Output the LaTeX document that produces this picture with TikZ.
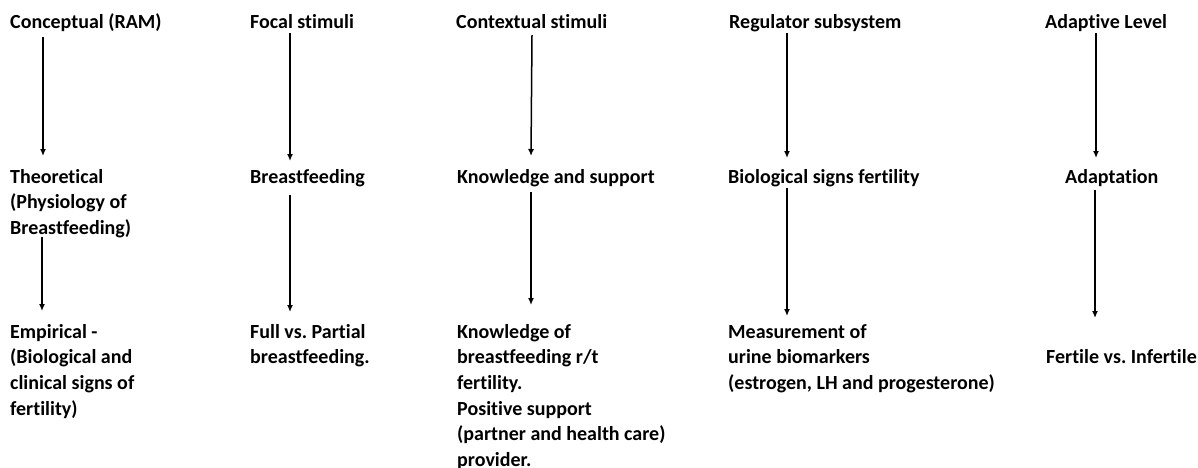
\documentclass[tikz,border=0pt]{standalone}
\usepackage{fontspec}
\setmainfont{Carlito}[Ligatures={NoCommon}]
\usetikzlibrary{arrows.meta}
\frenchspacing
\newcommand{\lines}[1]{\begin{tabular}[t]{@{}l@{}}#1\end{tabular}}
\begin{document}
\begin{tikzpicture}[x=1pt,y=-1pt,
  lbl/.style={anchor=base west,inner sep=0pt,font=\bfseries\fontsize{20}{25.7}\selectfont},
  arr/.style={line width=1.5pt,-{Latex[length=7pt,width=6pt]}}]
\useasboundingbox (0,0) rectangle (1198,467);
% row 1
\node[lbl] (c1r1) at (10,28) {Conceptual (RAM)};
\node[lbl] (c2r1) at (250,28) {Focal stimuli};
\node[lbl] (c3r1) at (456,28) {Contextual stimuli};
\node[lbl] (c4r1) at (729,28) {Regulator subsystem};
\node[lbl] (c5r1) at (1045,28) {Adaptive Level};
% row 2
\node[lbl] (c1r2) at (10,183) {\lines{Theoretical\\(Physiology of\\Breastfeeding)}};
\node[lbl] (c2r2) at (250,183) {Breastfeeding};
\node[lbl] (c3r2) at (457,183) {Knowledge and support};
\node[lbl] (c4r2) at (728,183) {Biological signs fertility};
\node[lbl] (c5r2) at (1065,183) {Adaptation};
% row 3
\node[lbl] (c1r3) at (10,338) {\lines{Empirical -\\(Biological and\\clinical signs of\\fertility)}};
\node[lbl] (c2r3) at (250,338) {\lines{Full vs. Partial\\breastfeeding.}};
\node[lbl] (c3r3) at (457,338) {\lines{Knowledge of\\breastfeeding r/t\\fertility.\\Positive support\\(partner and health care)\\provider.}};
\node[lbl] (c4r3) at (728,338) {\lines{Measurement of\\urine biomarkers\\(estrogen, LH and progesterone)}};
\node[lbl] (c5r3) at (1046,363) {Fertile vs. Infertile};
% arrow end points
\coordinate (a1s) at (43,37);  \coordinate (a1e) at (43,156);
\coordinate (a2s) at (290,33); \coordinate (a2e) at (290,161);
\coordinate (a3s) at (532,35); \coordinate (a3e) at (531,156);
\coordinate (a4s) at (787,33); \coordinate (a4e) at (787,158);
\coordinate (a5s) at (1096,33);\coordinate (a5e) at (1096,158);
\coordinate (b1s) at (42,237); \coordinate (b1e) at (42,311);
\coordinate (b2s) at (290,195);\coordinate (b2e) at (290,312);
\coordinate (b3s) at (531,192);\coordinate (b3e) at (531,305);
\coordinate (b4s) at (787,188);\coordinate (b4e) at (787,316);
\coordinate (b5s) at (1095,190);\coordinate (b5e) at (1095,318);
\foreach \p in {a1,a2,a3,a4,a5,b1,b2,b3,b4,b5}
  \draw[arr] (\p s) -- (\p e);
\end{tikzpicture}
\end{document}
